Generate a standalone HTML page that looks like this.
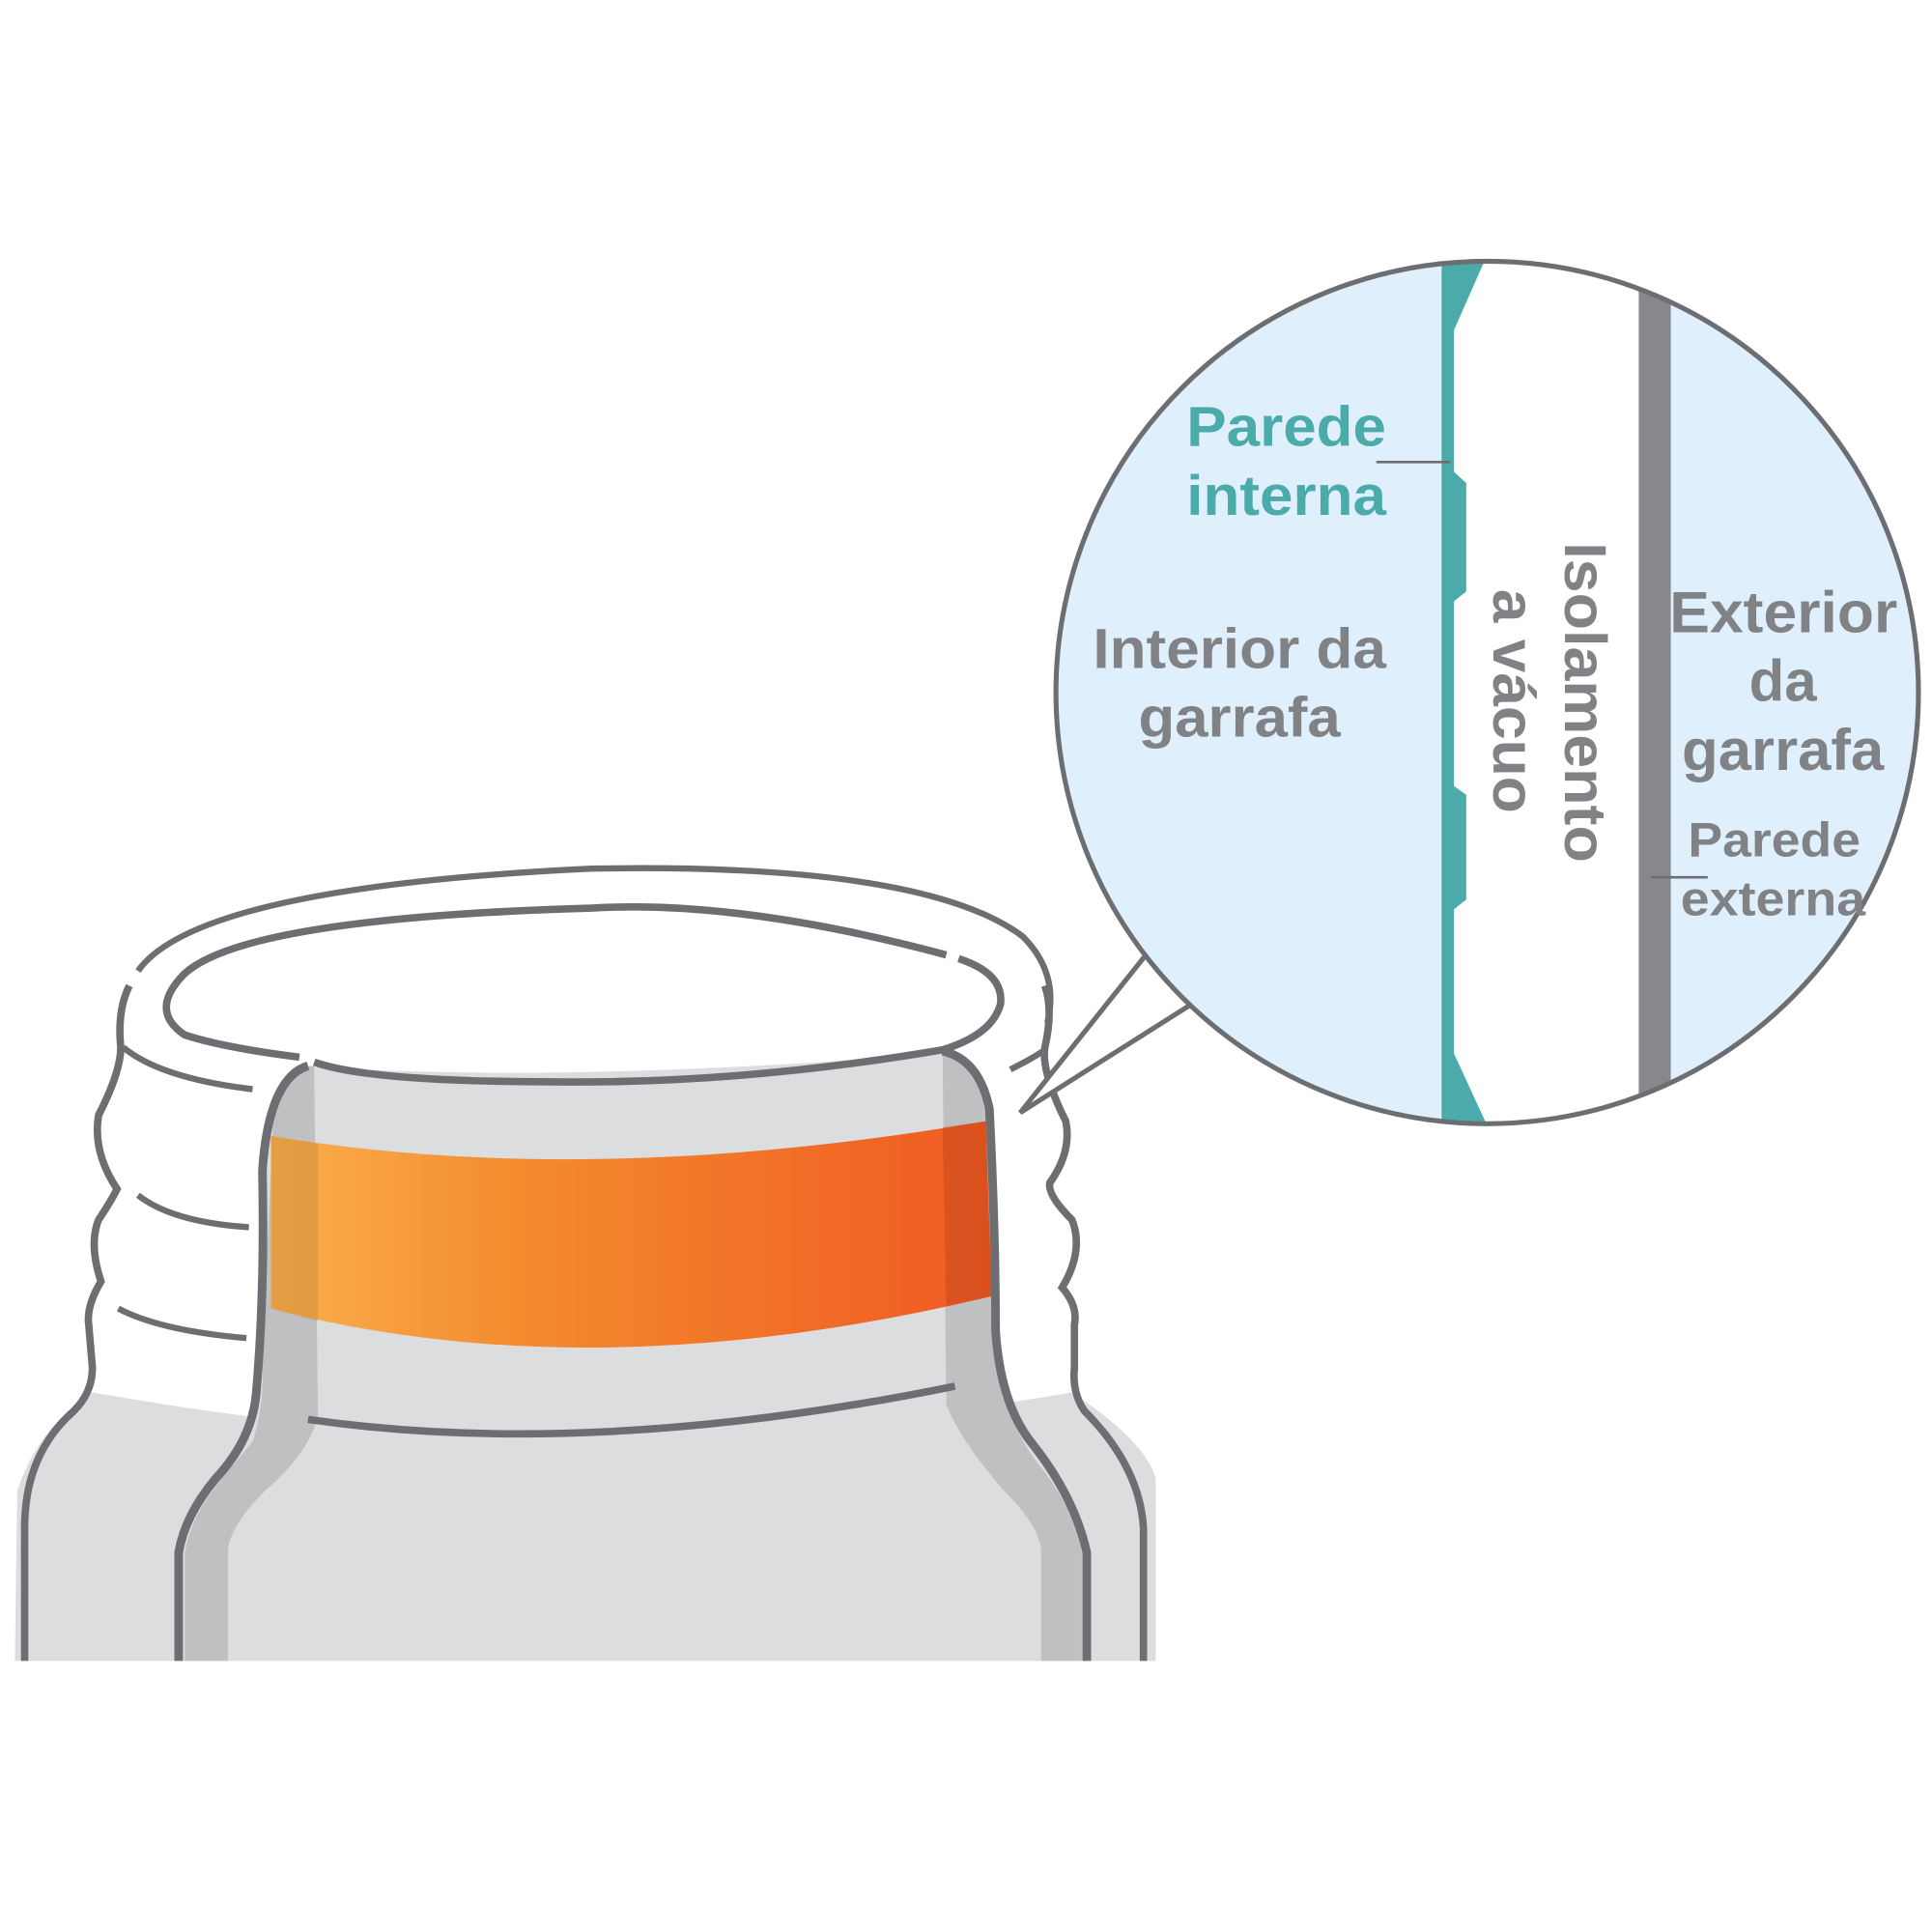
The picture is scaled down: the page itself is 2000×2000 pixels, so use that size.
<!DOCTYPE html>
<html><head><meta charset="utf-8"><style>
html,body{margin:0;padding:0;background:#fff;}
svg{display:block;}
text{font-family:"Liberation Sans",sans-serif;font-weight:bold;}
</style></head><body>
<svg width="2000" height="2000" viewBox="0 0 1568 1568" xmlns="http://www.w3.org/2000/svg">
<defs>
<linearGradient id="og" x1="0" x2="1" y1="0" y2="0">
<stop offset="0" stop-color="#fbb04e"/><stop offset="0.35" stop-color="#f38a2e"/><stop offset="1" stop-color="#f05a22"/>
</linearGradient>
<clipPath id="cc"><circle cx="1207" cy="562" r="350"/></clipPath>
</defs>
<path d="M12 1348 L14 1210 Q30 1160 75 1130 Q300 1170 470 1165 Q700 1160 870 1130 Q930 1170 938 1200 L938 1348 Z" fill="#dcdddf"/>
<path d="M20 1348 L20 1240 Q20 1180 60 1145 Q75 1130 75 1110 L72 1075 Q70 1060 82 1040 Q72 1010 80 990 Q90 975 95 965 Q75 935 80 905 Q98 870 98 850 Q95 820 105 800" fill="none" stroke="#6d6e71" stroke-width="6"/>
<path d="M928 1348 L928 1240 Q925 1190 880 1145 Q870 1130 872 1110 L872 1075 Q875 1060 862 1045 Q880 1015 870 990 Q850 970 852 960 Q870 935 865 910 Q845 870 848 850 Q855 820 848 800" fill="none" stroke="#6d6e71" stroke-width="6"/>
<path d="M145 1348 L148 1260 Q150 1230 175 1200 Q205 1165 210 1130 Q218 1050 215 950 Q220 880 240 865 Q450 880 765 855 Q790 870 800 900 Q808 1000 805 1080 Q810 1140 835 1170 Q870 1215 880 1260 L882 1348 Z" fill="#dcdddf"/>
<path d="M150 1348 L150 1260 Q155 1230 180 1200 L205 1170 Q215 1140 213 1100 L222 900 Q230 865 255 865 L258 1150 Q250 1180 215 1210 Q185 1240 185 1260 L185 1348 Z" fill="#bfc0c2"/>
<path d="M878 1348 L878 1260 Q870 1220 840 1185 Q815 1150 810 1100 L800 900 Q795 860 765 855 L768 1140 Q780 1170 815 1210 Q845 1240 845 1260 L845 1348 Z" fill="#bfc0c2"/>
<path d="M220 922 Q480 965 800 910 L805 1052 Q480 1130 220 1062 Z" fill="url(#og)"/>
<path d="M220 922 L258 928 L258 1072 L220 1062 Z" fill="#c88a3a" opacity="0.45"/>
<path d="M765 915 L800 910 L805 1052 L768 1060 Z" fill="#b84418" opacity="0.4"/>
<path d="M145 1348 L145 1260 Q150 1230 175 1200 Q205 1168 208 1130 Q215 1050 213 950 Q218 875 250 865" fill="none" stroke="#6d6e71" stroke-width="7"/>
<path d="M882 1348 L882 1260 Q872 1215 838 1172 Q812 1140 808 1080 Q808 1000 803 900 Q795 860 765 853" fill="none" stroke="#6d6e71" stroke-width="7"/>
<path d="M250 1152 Q480 1185 775 1125" fill="none" stroke="#6d6e71" stroke-width="6"/>
<path d="M112 788 Q160 720 480 705 Q750 700 830 760 Q860 790 850 830" fill="none" stroke="#6d6e71" stroke-width="5"/>
<path d="M768 775 Q600 730 480 737 Q200 745 150 790 Q120 820 150 840 Q180 850 243 858" fill="none" stroke="#6d6e71" stroke-width="6"/>
<path d="M778 778 Q815 790 812 815 Q805 840 765 852 Q600 880 450 878 Q300 878 255 862" fill="none" stroke="#6d6e71" stroke-width="6"/>
<path d="M100 850 Q130 875 205 884" fill="none" stroke="#6d6e71" stroke-width="5"/>
<path d="M112 970 Q140 992 202 996" fill="none" stroke="#6d6e71" stroke-width="5"/>
<path d="M96 1062 Q130 1080 200 1086" fill="none" stroke="#6d6e71" stroke-width="5"/>
<path d="M820 868 Q840 858 848 852" fill="none" stroke="#6d6e71" stroke-width="5"/>
<path d="M930 775 L828 903 L967 815 Z" fill="#fff"/>
<path d="M930 775 L828 903 L967 815" fill="none" stroke="#6d6e71" stroke-width="4"/>
<g clip-path="url(#cc)">
<rect x="850" y="200" width="720" height="720" fill="#dff0fc"/>
<polygon points="1170,200 1215,200 1215,920 1170,920" fill="#4aabaa"/>
<polygon points="1210,200 1330,200 1330,920 1210,920 1180,855 1180,738 1190,730 1190,645 1180,638 1180,488 1190,480 1190,392 1180,383 1180,268" fill="#fff"/>
<rect x="1330" y="200" width="26" height="720" fill="#87888b"/>
</g>
<circle cx="1207" cy="562" r="350" fill="none" stroke="#6d6e71" stroke-width="4"/>
<line x1="1117" y1="375" x2="1177" y2="375" stroke="#6d6e71" stroke-width="2"/>
<line x1="1340" y1="712" x2="1386" y2="712" stroke="#6d6e71" stroke-width="2"/>
<text x="963" y="362" font-size="46" fill="#4aabaa" textLength="162" lengthAdjust="spacingAndGlyphs">Parede</text>
<text x="963" y="418" font-size="46" fill="#4aabaa" textLength="162" lengthAdjust="spacingAndGlyphs">interna</text>
<text x="887" y="542" font-size="46" fill="#808285" textLength="238" lengthAdjust="spacingAndGlyphs">Interior da</text>
<text x="924" y="598" font-size="46" fill="#808285" textLength="164" lengthAdjust="spacingAndGlyphs">garrafa</text>
<text transform="translate(1270,440) rotate(90)" font-size="48" fill="#808285" textLength="260" lengthAdjust="spacingAndGlyphs">Isolamento</text>
<text transform="translate(1212,478) rotate(90)" font-size="48" fill="#808285" textLength="182" lengthAdjust="spacingAndGlyphs">a vácuo</text>
<text x="1355" y="513" font-size="47" fill="#808285" textLength="185" lengthAdjust="spacingAndGlyphs">Exterior</text>
<text x="1447" y="569" font-size="47" fill="#808285" text-anchor="middle">da</text>
<text x="1365" y="625" font-size="47" fill="#808285" textLength="164" lengthAdjust="spacingAndGlyphs">garrafa</text>
<text x="1370" y="695" font-size="39" fill="#808285" textLength="140" lengthAdjust="spacingAndGlyphs">Parede</text>
<text x="1364" y="743" font-size="39" fill="#808285" textLength="150" lengthAdjust="spacingAndGlyphs">externa</text>
</svg>
</body></html>
